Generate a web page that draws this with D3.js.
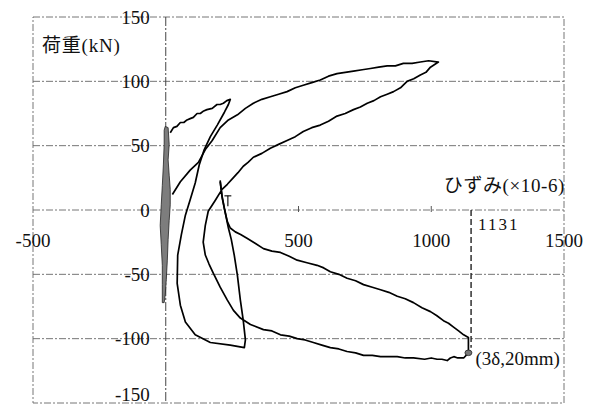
<!DOCTYPE html>
<html>
<head>
<meta charset="utf-8">
<script src="https://cdn.jsdelivr.net/npm/d3@7"></script>
<style>
  body { margin: 0; background: #fff; }
  svg { display: block; }
  text { font-family: "Liberation Serif", "Times New Roman", "Noto Sans CJK JP", serif; fill: #111; }
</style>
</head>
<body>
<svg id="grafico" width="593" height="407"></svg>
<script>
// ticks
const xTicks = [-500, 500, 1000, 1500];
const yTicks = [150, 100, 50, 0, -50, -100, -150];
const gridY = [100, 50, 0, -50, -100];
const minorX = [500, 1000];

// first cycles (grey band around 0)
const band = [[-2,65],[9,64],[13,51],[9,39],[13,27],[17,16],[17,4],[13,-8],[9,-23],[6,-39],[2,-54],[-2,-66],[-6,-72],
  [-13,-72],[-13,-58],[-13,-43],[-17,-27],[-21,-12],[-17,4],[-13,19],[-9,35],[-6,51],[-6,62]];

// 2δ cycle
const cycle2 = [[17,60],[29,64],[42,65],[55,68],[68,68],[80,70],[92,71],[104,72],[118,75],[130,75],[143,77],[155,78],
  [175,79],[193,82],[205,82],[217,83],[230,85],[243,86],
  [236,82],[221,76],[194,66],[168,57],[145,47],[126,35],[111,21],[92,8],[74,-4],[59,-19],[45,-35],[43,-57],
  [55,-74],[74,-87],[111,-97],[168,-103],[243,-105],[296,-107],[300,-101],[292,-86],[281,-70],[270,-51],
  [258,-35],[247,-23],[236,-14],[224,-2],[213,9],[205,22]];

// 3δ cycle
const cycle3 = [[25,12],[55,22],[92,31],[123,37],[149,47],[175,54],[205,64],[236,70],[270,74],[300,79],[330,83],
  [362,86],[394,88],[425,90],[457,92],[488,95],[518,97],[550,99],[582,101],[613,104],[645,106],[676,107],[707,108],
  [740,109],[771,110],[802,111],[834,112],[865,112],[895,114],[928,114],[959,115],[990,116],[1027,115],
  [997,111],[980,107],[959,105],[934,102],[909,100],[884,95],[858,92],[834,90],[809,88],[784,85],[759,83],
  [733,80],[707,78],[676,75],[645,73],[613,69],[582,66],[550,64],[518,61],[488,57],[457,54],[425,51],[394,48],
  [362,44],[330,41],[310,37],[292,34],[272,29],[254,25],[232,20],[212,16],[185,7],[160,-1],[149,-12],[141,-25],
  [149,-35],[163,-42],[179,-49],[205,-60],[232,-70],[255,-78],[281,-84],[319,-89],[368,-93],[400,-94],[432,-97],
  [465,-98],[495,-100],[525,-101],[556,-103],[588,-105],[620,-107],[652,-108],[683,-110],[715,-111],[745,-113],
  [778,-113],[809,-114],[840,-114],[872,-114],[902,-115],[933,-115],[975,-116],[1000,-115],[1022,-116],
  [1040,-116],[1060,-117],[1072,-115],[1085,-114],[1100,-115],[1122,-115],[1140,-111],
  [1140,-106],[1140,-99],[1122,-97],[1103,-94],[1084,-91],[1065,-88],[1046,-86],[1020,-82],[997,-79],[965,-76],
  [933,-72],[902,-69],[872,-67],[840,-64],[809,-62],[778,-60],[745,-58],[715,-55],[683,-53],[652,-50],[620,-48],
  [595,-45],[570,-43],[532,-41],[495,-39],[465,-36],[432,-33],[400,-32],[368,-30],[338,-26],[306,-22],[282,-19],
  [262,-17],[243,-14],[232,-9],[221,1],[211,12],[205,23]];

const smallMark = [[[221,11],[247,11]],[[234,11],[234,3]]];

const peak = [1140, -111];
const peakLineX = 1150;
const peakLineBottom = -107;
const peakValueLabel = '1131';
const peakLabel = '(3δ,20mm)';
const yTitle = '荷重(kN)';
const xTitle = 'ひずみ(×10-6)';

const svg = d3.select('#grafico');
const plotLeft = 33, plotTop = 17, plotRight = 564, plotBottom = 403;
const svgHeight = 407;

const x = d3.scaleLinear().domain([-500, 1500]).range([plotLeft, plotRight]);
const y = d3.scaleLinear().domain([-150, 150]).range([plotBottom, plotTop]);

const gridColor = '#666';
const dash = '7,2,2,2';

// marco
svg.append('rect')
  .attr('x', plotLeft).attr('y', plotTop)
  .attr('width', plotRight - plotLeft).attr('height', plotBottom - plotTop)
  .attr('fill', 'none')
  .attr('stroke', gridColor)
  .attr('stroke-width', 0.9)
  .attr('stroke-dasharray', dash);

// horizontal grid
svg.append('g')
  .selectAll('line')
  .data(gridY)
  .enter().append('line')
  .attr('x1', plotLeft).attr('x2', plotRight)
  .attr('y1', d => y(d)).attr('y2', d => y(d))
  .attr('stroke', gridColor)
  .attr('stroke-width', 0.9)
  .attr('stroke-dasharray', dash);

// y axis at x = 0
svg.append('line')
  .attr('x1', x(0)).attr('x2', x(0))
  .attr('y1', plotTop).attr('y2', plotBottom)
  .attr('stroke', '#444')
  .attr('stroke-width', 1)
  .attr('stroke-dasharray', '9,2,2,2');

// small ticks on x axis
svg.append('g')
  .selectAll('line')
  .data(minorX)
  .enter().append('line')
  .attr('x1', d => x(d)).attr('x2', d => x(d))
  .attr('y1', y(0) - 4).attr('y2', y(0) + 2)
  .attr('stroke', '#555')
  .attr('stroke-width', 1);

// y tick labels (bottom one kept inside the picture)
svg.append('g')
  .selectAll('text')
  .data(yTicks)
  .enter().append('text')
  .attr('x', x(0) - 16)
  .attr('y', d => Math.min(y(d) + 6.5, svgHeight - 6))
  .attr('text-anchor', 'end')
  .attr('font-size', 19)
  .text(d => d);

// x tick labels
svg.append('g')
  .selectAll('text')
  .data(xTicks)
  .enter().append('text')
  .attr('x', d => x(d))
  .attr('y', y(0) + 37)
  .attr('text-anchor', 'middle')
  .attr('font-size', 19)
  .text(d => d);

// titles
svg.append('text')
  .attr('x', plotLeft + 9).attr('y', plotTop + 35)
  .attr('font-size', 19)
  .attr('letter-spacing', 0.8)
  .text(yTitle);

svg.append('text')
  .attr('x', plotRight + 1).attr('y', y(0) - 18)
  .attr('text-anchor', 'end')
  .attr('font-size', 19)
  .attr('letter-spacing', 0.6)
  .text(xTitle);

const line = d3.line().x(d => x(d[0])).y(d => y(d[1]));

// grey band
svg.append('path')
  .attr('d', line(band) + 'Z')
  .attr('fill', '#7d7d7d')
  .attr('stroke', '#222')
  .attr('stroke-width', 0.8);

// loops
svg.append('g')
  .selectAll('path')
  .data([cycle2, cycle3])
  .enter().append('path')
  .attr('d', d => line(d))
  .attr('fill', 'none')
  .attr('stroke', '#000')
  .attr('stroke-width', 1.7)
  .attr('stroke-linejoin', 'round');

svg.append('g')
  .selectAll('path')
  .data(smallMark)
  .enter().append('path')
  .attr('d', d => line(d))
  .attr('fill', 'none')
  .attr('stroke', '#000')
  .attr('stroke-width', 1.1);

// peak line and marker
svg.append('line')
  .attr('x1', x(peakLineX)).attr('x2', x(peakLineX))
  .attr('y1', y(0)).attr('y2', y(peakLineBottom))
  .attr('stroke', '#111')
  .attr('stroke-width', 1.3)
  .attr('stroke-dasharray', '6,3');

svg.append('ellipse')
  .attr('cx', x(peak[0])).attr('cy', y(peak[1]))
  .attr('rx', 3.5).attr('ry', 2.8)
  .attr('fill', '#777')
  .attr('stroke', '#222')
  .attr('stroke-width', 0.8);

svg.append('text')
  .attr('x', x(peakLineX) + 7).attr('y', y(0) + 20)
  .attr('font-size', 17)
  .attr('letter-spacing', 2)
  .text(peakValueLabel);

svg.append('text')
  .attr('x', x(peak[0]) + 7).attr('y', y(peak[1]) + 12)
  .attr('font-size', 19)
  .text(peakLabel);
</script>
</body>
</html>
